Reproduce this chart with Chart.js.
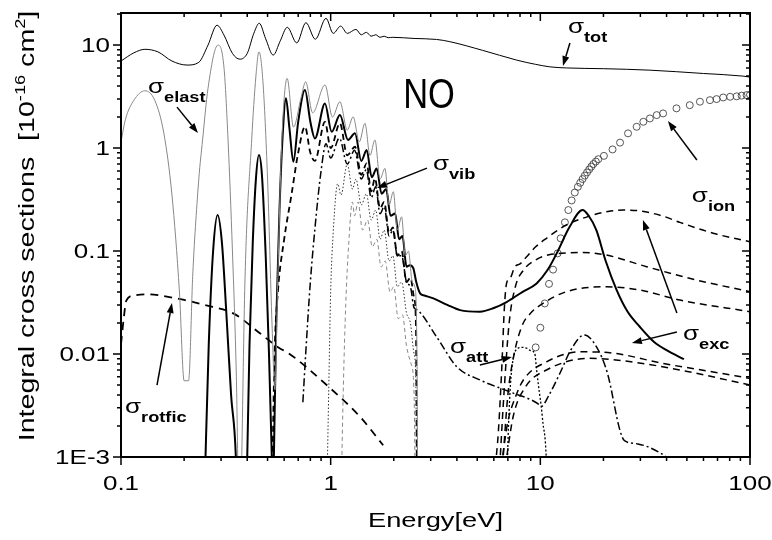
<!DOCTYPE html>
<html>
<head>
<meta charset="utf-8">
<script src="https://cdn.jsdelivr.net/npm/chart.js@4/dist/chart.umd.min.js"></script>
<style>
  html, body { margin: 0; padding: 0; background: #fff; }
  #wrap { width: 772px; height: 540px; }
</style>
</head>
<body>
<div id="wrap"><canvas id="chart" width="772" height="540"></canvas></div>
<script>
// tick labels
const xTickValues = [0.1, 1, 10, 100];
const xTickLabels = ['0.1', '1', '10', '100'];
const yTickValues = [0.001, 0.01, 0.1, 1, 10];
const yTickLabels = ['1E-3', '0.01', '0.1', '1', '10'];

// [energy eV, cross section 1e-16 cm2]
const sigmaTot = [
  [0.1, 7.0], [0.115, 8.4], [0.13, 9.1], [0.15, 8.6], [0.175, 7.0], [0.2065, 6.4], [0.235, 6.8],
  [0.26, 10], [0.287, 15.6], [0.31, 12.5], [0.34, 8.3], [0.369, 7.3], [0.4, 8.3], [0.43, 13],
  [0.4565, 16.3], [0.49, 11.5], [0.532, 8.0], [0.575, 11], [0.621, 14.9], [0.689, 10.5],
  [0.762, 16.5], [0.845, 11.4], [0.95, 18.2], [1.029, 13.0], [1.116, 15.3], [1.2, 13.0],
  [1.32, 14.2], [1.4, 12.6], [1.48, 13.3], [1.56, 12.2], [1.64, 12.6], [1.72, 11.9], [1.8, 12.2],
  [1.88, 11.8], [1.98, 11.9], [2.5, 11.6], [3.2, 11.35], [3.7, 10.8], [5.3, 8.9], [7.71, 7.15],
  [9.5, 6.5], [11.1, 6.15], [13.3, 6.0], [20, 5.9], [33.3, 5.71], [60, 5.3], [92.5, 5.0], [100, 4.89],
];
const sigmaElast = [
  [0.1, 1.15], [0.105, 1.9], [0.115, 2.9], [0.13, 3.6], [0.145, 2.9], [0.16, 1.4], [0.175, 0.35],
  [0.19, 0.04], [0.2, 0.0055], [0.21, 0.0055], [0.22, 0.06], [0.235, 0.5], [0.245, 1.2], [0.26, 3.8],
  [0.29, 10], [0.31, 6], [0.324, 1.2], [0.34, 0.1], [0.355, 0.006], [0.369, 0.0001], [0.376, 0.0008],
  [0.39, 0.05], [0.42, 1.2], [0.44, 5], [0.455, 8.6], [0.475, 4.5], [0.5, 0.5], [0.525, 0.02],
  [0.542, 0.0045], [0.56, 0.06], [0.585, 1.2], [0.62, 4.75], [0.665, 1.6], [0.72, 3.0], [0.76, 4.4],
  [0.82, 2.2], [0.94, 4.1], [1.02, 2.0], [1.107, 2.82], [1.2, 1.5], [1.28, 2.01], [1.37, 1.15],
  [1.457, 1.74], [1.54, 0.85], [1.626, 1.2], [1.72, 0.5], [1.815, 0.635], [1.9, 0.28], [1.99, 0.377],
  [2.08, 0.16], [2.18, 0.215], [2.27, 0.09], [2.35, 0.1], [2.45, 0.05], [2.52, 0.045], [2.58, 0.01],
  [2.62, 0.00001],
];
const sigmaVib0 = [
  [0.248, 0.0002], [0.253, 0.001], [0.262, 0.012], [0.275, 0.1], [0.289, 0.224], [0.303, 0.12],
  [0.318, 0.025], [0.335, 0.004], [0.353, 0.001], [0.36, 0.0002], [0.375, 0.00003], [0.395, 0.0002],
  [0.40, 0.001], [0.41, 0.012], [0.425, 0.12], [0.44, 0.5], [0.455, 0.855], [0.47, 0.55], [0.49, 0.09],
  [0.508, 0.01], [0.524, 0.001], [0.53, 0.0004], [0.536, 0.001], [0.55, 0.02], [0.57, 0.25], [0.59, 1.3],
  [0.612, 3.04], [0.635, 1.6], [0.664, 0.736], [0.7, 1.8], [0.754, 3.66], [0.8, 1.8], [0.841, 1.24],
  [0.939, 2.71], [1.011, 1.44], [1.107, 2.09], [1.21, 1.2], [1.306, 1.39], [1.4, 0.75], [1.485, 0.956],
  [1.57, 0.52], [1.656, 0.635], [1.75, 0.36], [1.84, 0.4], [1.93, 0.22], [2.03, 0.232], [2.12, 0.13],
  [2.2, 0.14], [2.3, 0.0705], [2.39, 0.073], [2.48, 0.068], [2.56, 0.05], [2.67, 0.0388], [2.8, 0.037],
  [3.09, 0.0347], [3.6, 0.03], [4.14, 0.0267], [5.15, 0.0258], [6.0, 0.028], [6.9, 0.032], [8.2, 0.04],
  [9.6, 0.0485], [10.8, 0.065], [11.97, 0.095], [13.8, 0.172], [15.9, 0.25], [17.0, 0.22], [18.5, 0.16],
  [20.5, 0.08], [23.1, 0.042], [26, 0.026], [29.8, 0.0184], [35, 0.013], [40, 0.0109], [48.4, 0.0089],
];
const sigmaVib1 = [
  [0.528, 0.0009], [0.54, 0.01], [0.56, 0.04], [0.6, 0.13], [0.65, 0.35], [0.7, 0.9], [0.754, 1.61],
  [0.8, 0.9], [0.841, 0.75], [0.939, 1.8], [1.0, 1.0], [1.107, 1.74], [1.2, 0.85], [1.306, 1.03],
  [1.4, 0.55], [1.485, 0.709], [1.56, 0.38], [1.626, 0.508], [1.72, 0.26], [1.8, 0.3], [1.9, 0.15],
  [1.98, 0.17], [2.08, 0.09], [2.18, 0.1], [2.3, 0.05], [2.4, 0.055], [2.5, 0.035], [2.55, 0.02],
  [2.6, 0.00001],
];
const sigmaVib2 = [
  [0.737, 0.0034], [0.76, 0.01], [0.8, 0.05], [0.84, 0.16], [0.9, 0.6], [0.95, 1.1], [1.0, 0.8],
  [1.1, 1.25], [1.2, 0.7], [1.3, 0.95], [1.4, 0.5], [1.48, 0.62], [1.56, 0.33], [1.64, 0.42],
  [1.72, 0.23], [1.8, 0.27], [1.9, 0.14], [1.98, 0.16], [2.08, 0.09], [2.18, 0.09], [2.3, 0.05],
  [2.4, 0.045], [2.5, 0.028], [2.57, 0.027], [3.2, 0.0147], [4.0, 0.0075], [5.15, 0.0056],
  [7.13, 0.0043], [9.95, 0.0032], [10.1, 0.0031], [11, 0.004], [12.4, 0.0065], [14, 0.011],
  [16.2, 0.0153], [18.5, 0.0118], [20.9, 0.0065], [24, 0.0018], [25.2, 0.00144], [29.2, 0.00134],
  [40, 0.001], [45, 0.0008],
];
const sigmaVib3 = [
  [0.965, 0.0009], [0.98, 0.005], [1.0, 0.04], [1.03, 0.16], [1.08, 0.45], [1.12, 0.35], [1.2, 0.7],
  [1.27, 0.4], [1.32, 0.5], [1.4, 0.28], [1.48, 0.36], [1.56, 0.2], [1.64, 0.25], [1.72, 0.13],
  [1.8, 0.16], [1.9, 0.08], [1.98, 0.09], [2.08, 0.045], [2.18, 0.05], [2.3, 0.025], [2.4, 0.02],
  [2.5, 0.01], [2.55, 0.005], [2.58, 0.00001],
];
const sigmaVib4 = [
  [1.13, 0.0009], [1.15, 0.005], [1.18, 0.03], [1.22, 0.12], [1.27, 0.3], [1.3, 0.22], [1.35, 0.3],
  [1.42, 0.16], [1.5, 0.2], [1.58, 0.11], [1.66, 0.13], [1.74, 0.07], [1.82, 0.08], [1.92, 0.04],
  [2.0, 0.045], [2.1, 0.022], [2.2, 0.024], [2.3, 0.012], [2.42, 0.008], [2.5, 0.004], [2.56, 0.00001],
];
const sigmaRotfic = [
  [0.1, 0.0125], [0.103, 0.022], [0.106, 0.033], [0.115, 0.037], [0.1375, 0.038], [0.16, 0.0365],
  [0.2, 0.0335], [0.25, 0.030], [0.343, 0.0248], [0.46, 0.0159], [0.573, 0.0113], [0.616, 0.0105],
  [0.957, 0.005], [1.38, 0.00246], [1.78, 0.0013],
];
const sigmaAtt = [
  [6.95, 0.0008], [7.05, 0.002], [7.2, 0.005], [7.4, 0.0087], [7.7, 0.0111], [8.2, 0.0116],
  [8.6, 0.0114], [9.0, 0.0108], [9.4, 0.0102], [9.6, 0.007], [9.9, 0.0042], [10.1, 0.0031],
  [10.3, 0.0021], [10.55, 0.00146], [10.7, 0.0009],
];
const sigmaExcA = [
  [6.1, 0.0008], [6.3, 0.0017], [6.53, 0.0065], [6.75, 0.03], [6.9, 0.0485], [7.2, 0.055],
  [7.56, 0.0705], [8.0, 0.075], [8.6, 0.088], [9.5, 0.11], [10.7, 0.133], [13.3, 0.179], [17.2, 0.219],
  [21, 0.242], [25, 0.25], [30, 0.245], [38, 0.22], [46.3, 0.19], [66.7, 0.149], [100, 0.123],
];
const sigmaExcB = [
  [6.4, 0.0008], [6.7, 0.004], [7.1, 0.02], [7.6, 0.045], [8.3, 0.065], [9.5, 0.082], [11, 0.092],
  [12.6, 0.095], [16, 0.097], [20.7, 0.0914], [32.1, 0.0705], [55.6, 0.0523], [100, 0.0403],
];
const sigmaExcC = [
  [6.6, 0.0008], [7.0, 0.004], [7.5, 0.01], [8.2, 0.019], [9.0, 0.025], [10.3, 0.031], [13.3, 0.0403],
  [20.7, 0.045], [29.8, 0.0418], [46.3, 0.0334], [100, 0.0258],
];
const sigmaExcD = [
  [6.5, 0.0008], [7.0, 0.0022], [7.6, 0.0038], [8.3, 0.0056], [10.7, 0.0084], [15.5, 0.0105],
  [22.3, 0.0102], [38.5, 0.0081], [66.7, 0.0067], [100, 0.0058],
];
const sigmaExcE = [
  [6.8, 0.0008], [7.43, 0.0025], [8.5, 0.0048], [10.7, 0.007], [17.2, 0.0091], [27.1, 0.0084],
  [46.3, 0.007], [100, 0.005],
];
const sigmaIon = [
  [9.5, 0.0116], [10.0, 0.018], [10.5, 0.031], [11.0, 0.048], [11.5, 0.066], [12.1, 0.095],
  [12.5, 0.133], [13.1, 0.19], [13.6, 0.25], [14.1, 0.31], [14.6, 0.37], [15.1, 0.42], [15.5, 0.46],
  [15.9, 0.50], [16.3, 0.54], [16.7, 0.58], [17.1, 0.62], [17.5, 0.66], [17.9, 0.70], [18.4, 0.74],
  [18.9, 0.78], [20.1, 0.84], [22.1, 0.97], [24.0, 1.13], [26.2, 1.39], [28.8, 1.61], [31, 1.80],
  [33.3, 1.94], [35.9, 2.09], [38.5, 2.17], [44.6, 2.43], [51.6, 2.61], [57.7, 2.82], [64.4, 2.92],
  [69.3, 2.99], [74.5, 3.1], [80.4, 3.15], [86.4, 3.18], [91.2, 3.23], [96.3, 3.27], [100, 3.3],
];

// text annotations and arrows, in data coordinates
const notes = [
  ['tot', 13.54, 13.08], ['elast', 0.1345, 3.42], ['vib', 3.075, 0.611], ['ion', 52.8, 0.299],
  ['exc', 47.9, 0.01368], ['att', 3.707, 0.01023], ['rotfic', 0.1045, 0.00267],
];
const arrows = [
  [13.84, 10.46, 12.82, 6.25], [0.185, 2.50, 0.2329, 1.398], [2.879, 0.639, 1.663, 0.409],
  [55.8, 0.765, 40.6, 1.829], [44.8, 0.025, 30.85, 0.2], [44.8, 0.01636, 27.34, 0.01279],
  [5.15, 0.00782, 7.32, 0.00935], [0.1485, 0.005, 0.175, 0.0313],
];

const FONT = '"Liberation Sans", Arial, sans-serif';
const STRETCH = 1.3;

function pts(arr) {
  return arr.map(([x, y]) => ({ x, y }));
}

function lineSet(arr, color, width, dash) {
  return {
    data: pts(arr),
    borderColor: color,
    borderWidth: width,
    borderDash: dash || [],
    pointRadius: 0,
    fill: false,
    cubicInterpolationMode: 'monotone',
  };
}

function wideText(ctx, text, x, y, align) {
  ctx.save();
  ctx.translate(x, y);
  ctx.scale(STRETCH, 1);
  const w = ctx.measureText(text).width;
  const dx = align === 'right' ? -w : align === 'center' ? -w / 2 : 0;
  ctx.fillText(text, dx, 0);
  ctx.restore();
  return w * STRETCH;
}

const decor = {
  id: 'decor',
  afterDatasetsDraw(chart) {
    const { ctx, chartArea: a, scales: { x, y } } = chart;
    ctx.save();
    ctx.strokeStyle = '#000';
    ctx.fillStyle = '#000';

    // frame
    ctx.lineWidth = 2;
    ctx.strokeRect(a.left, a.top, a.right - a.left, a.bottom - a.top);

    // tick marks
    ctx.lineWidth = 1.5;
    const kind = v => {
      const p = Math.floor(Math.log10(v) + 1e-9);
      const sig = v / Math.pow(10, p);
      if (Math.abs(sig - Math.round(sig)) > 1e-6) return 0;
      return Math.round(sig) === 1 || Math.round(sig) === 10 ? 2 : 1;
    };
    ctx.beginPath();
    x.ticks.forEach(t => {
      const k = kind(t.value);
      if (!k) return;
      const px = x.getPixelForValue(t.value);
      const len = k === 2 ? 8 : 4;
      ctx.moveTo(px, a.bottom); ctx.lineTo(px, a.bottom + len);
      ctx.moveTo(px, a.top); ctx.lineTo(px, a.top + len);
    });
    y.ticks.forEach(t => {
      const k = kind(t.value);
      if (!k) return;
      const py = y.getPixelForValue(t.value);
      const len = k === 2 ? 8 : 4;
      ctx.moveTo(a.left, py); ctx.lineTo(a.left - len, py);
      ctx.moveTo(a.right, py); ctx.lineTo(a.right - len, py);
    });
    ctx.stroke();

    // tick labels
    ctx.font = '20px ' + FONT;
    ctx.textBaseline = 'alphabetic';
    xTickValues.forEach((v, i) => wideText(ctx, xTickLabels[i], x.getPixelForValue(v), a.bottom + 33, 'center'));
    yTickValues.forEach((v, i) => wideText(ctx, yTickLabels[i], a.left - 11, y.getPixelForValue(v) + 7, 'right'));

    // axis titles
    ctx.font = '21px ' + FONT;
    wideText(ctx, 'Energy[eV]', (a.left + a.right) / 2, 527, 'center');

    ctx.save();
    ctx.translate(34, 226);
    ctx.rotate(-Math.PI / 2);
    const big = '22px ' + FONT, small = '14px ' + FONT;
    const parts = [['Integral cross sections  [10', big, 0], ['-16', small, -9], [' cm', big, 0], ['2', small, -9], [']', big, 0]];
    let total = 0;
    parts.forEach(([t, f]) => { ctx.font = f; total += ctx.measureText(t).width * STRETCH; });
    let cx = -total / 2;
    parts.forEach(([t, f, dy]) => { ctx.font = f; cx += wideText(ctx, t, cx, dy, 'left'); });
    ctx.restore();

    // NO
    ctx.save();
    ctx.font = '42px ' + FONT;
    ctx.translate(x.getPixelForValue(2.944), y.getPixelForValue(2.445));
    ctx.scale(0.82, 1);
    ctx.textAlign = 'center';
    ctx.fillText('NO', 0, 0);
    ctx.restore();

    // sigma labels
    notes.forEach(([sub, e, s]) => {
      const px = x.getPixelForValue(e), py = y.getPixelForValue(s);
      ctx.font = '20px ' + FONT;
      const w = wideText(ctx, 'σ', px, py, 'left');
      ctx.font = 'bold 14px ' + FONT;
      wideText(ctx, sub, px + w, py + 9, 'left');
    });

    // arrows
    ctx.lineWidth = 1.5;
    arrows.forEach(([e1, s1, e2, s2]) => {
      const x1 = x.getPixelForValue(e1), y1 = y.getPixelForValue(s1);
      const x2 = x.getPixelForValue(e2), y2 = y.getPixelForValue(s2);
      const ang = Math.atan2(y2 - y1, x2 - x1);
      const hl = 10, hw = 3.5;
      const bx = x2 - hl * Math.cos(ang), by = y2 - hl * Math.sin(ang);
      ctx.beginPath();
      ctx.moveTo(x1, y1); ctx.lineTo(bx, by);
      ctx.stroke();
      ctx.beginPath();
      ctx.moveTo(x2, y2);
      ctx.lineTo(bx + hw * Math.sin(ang), by - hw * Math.cos(ang));
      ctx.lineTo(bx - hw * Math.sin(ang), by + hw * Math.cos(ang));
      ctx.closePath();
      ctx.fill();
    });
    ctx.restore();
  },
};

new Chart(document.getElementById('chart').getContext('2d'), {
  type: 'line',
  data: {
    datasets: [
      lineSet(sigmaTot, '#000', 1),
      lineSet(sigmaElast, '#888', 1),
      lineSet(sigmaVib4, '#888', 1, [4, 3]),
      lineSet(sigmaVib3, '#333', 1, [1.5, 2]),
      lineSet(sigmaVib2, '#000', 1.5, [8, 3, 2, 3]),
      lineSet(sigmaVib1, '#000', 1.8, [6, 4]),
      lineSet(sigmaVib0, '#000', 2),
      lineSet(sigmaRotfic, '#000', 1.8, [8, 6]),
      lineSet(sigmaAtt, '#000', 1.3, [2, 2]),
      lineSet(sigmaExcA, '#000', 1.5, [7, 5]),
      lineSet(sigmaExcB, '#000', 1.5, [7, 5]),
      lineSet(sigmaExcC, '#000', 1.5, [7, 5]),
      lineSet(sigmaExcD, '#000', 1.5, [7, 5]),
      lineSet(sigmaExcE, '#000', 1.5, [7, 5]),
      {
        data: pts(sigmaIon),
        showLine: false,
        pointRadius: 3.5,
        pointStyle: 'circle',
        pointBorderColor: '#444',
        pointBackgroundColor: 'rgba(0,0,0,0)',
        pointBorderWidth: 0.9,
      },
    ],
  },
  options: {
    responsive: false,
    animation: false,
    layout: { padding: { top: 13, right: 22, left: 0, bottom: 0 } },
    plugins: { legend: { display: false }, tooltip: { enabled: false } },
    scales: {
      x: {
        type: 'logarithmic',
        min: 0.1,
        max: 100,
        grid: { display: false, drawTicks: false },
        border: { display: false },
        ticks: { display: false, autoSkip: false },
        afterFit(scale) { scale.height = 83; },
      },
      y: {
        type: 'logarithmic',
        min: 0.001,
        max: 20.5,
        grid: { display: false, drawTicks: false },
        border: { display: false },
        ticks: { display: false, autoSkip: false },
        afterFit(scale) { scale.width = 121; },
      },
    },
  },
  plugins: [decor],
});
</script>
</body>
</html>
